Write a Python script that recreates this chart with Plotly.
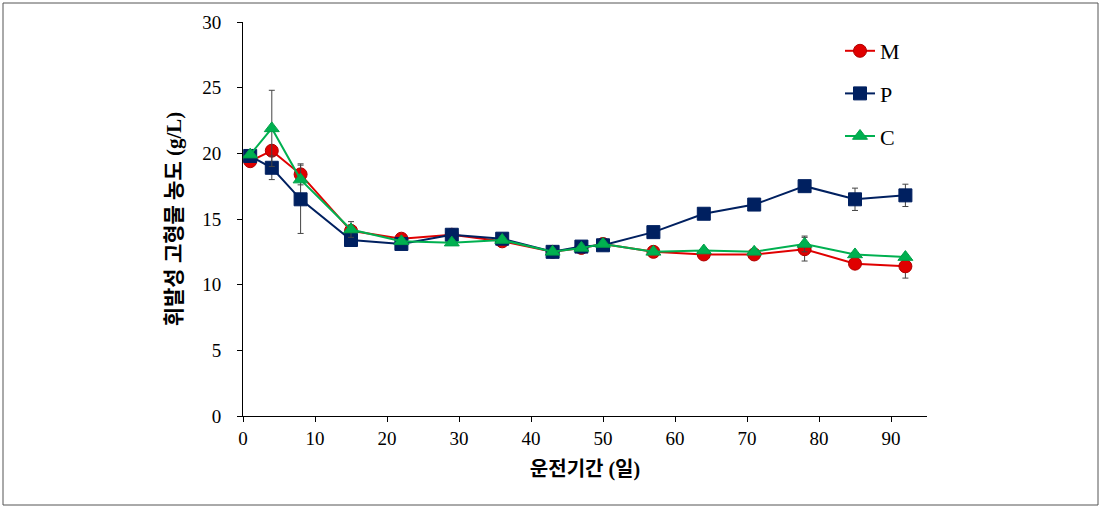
import plotly.graph_objects as go

days = [1, 4, 8, 15, 22, 29, 36, 43, 47, 50, 57, 64, 71, 78, 85, 92]
m_vals = [19.4, 20.2, 18.4, 14.1, 13.5, 13.8, 13.3, 12.5, 12.8, 13.1, 12.5, 12.3, 12.3, 12.7, 11.6, 11.4]
p_vals = [19.8, 18.9, 16.5, 13.4, 13.1, 13.8, 13.5, 12.5, 12.9, 13.0, 14.0, 15.4, 16.1, 17.5, 16.5, 16.8]
c_vals = [19.9, 21.9, 18.0, 14.2, 13.3, 13.2, 13.4, 12.5, 12.8, 13.1, 12.5, 12.6, 12.5, 13.1, 12.3, 12.1]
m_err = [0, 0, 0.8, 0, 0, 0, 0, 0, 0, 0, 0, 0, 0, 0.9, 0, 0.9]
p_err = [0, 0.9, 2.6, 0, 0, 0, 0, 0, 0, 0, 0, 0, 0, 0, 0.85, 0.85]
c_err = [0, 2.9, 0, 0.6, 0, 0, 0, 0, 0, 0, 0, 0, 0, 0.6, 0, 0]
names = ["M", "P", "C"]
x_ticks = [0, 10, 20, 30, 40, 50, 60, 70, 80, 90]
y_ticks = [0, 5, 10, 15, 20, 25, 30]

W, H = 1102, 508
L, R, T, B = 243, 175, 22, 92
PW, PH = W - L - R, H - T - B

serif = "Liberation Serif"
kfont = "Liberation Serif, Noto Sans CJK KR"

fig = go.Figure()
styles = [
    (m_vals, m_err, "#E00000", "#B00000", "circle", 13),
    (p_vals, p_err, "#002060", "#002060", "square", 13),
    (c_vals, c_err, "#00B050", "#00A048", "triangle-up", 13),
]
for name, (vals, err, col, lcol, sym, sz) in zip(names, styles):
    fig.add_trace(go.Scatter(
        x=days, y=vals, name=name, legendgroup=name,
        mode="lines+markers",
        line=dict(color=col, width=2),
        marker=dict(symbol=sym, size=sz, color=col, line=dict(color=lcol, width=1)),
        error_y=dict(type="data", array=err, visible=True, color="#444444", thickness=1, width=3),
    ))

fig.update_layout(
    width=W, height=H,
    margin=dict(l=L, r=R, t=T, b=B, pad=0),
    paper_bgcolor="white", plot_bgcolor="white",
    showlegend=True,
    legend=dict(
        x=(840 - L) / PW, y=(416 - 30) / PH, xanchor="left", yanchor="top",
        font=dict(family=serif, size=22, color="black"),
        bgcolor="rgba(0,0,0,0)", tracegroupgap=11, itemwidth=30,
    ),
    xaxis=dict(
        range=[0, 95], tickvals=x_ticks, ticks="outside", ticklen=5, tickcolor="black",
        showline=True, linecolor="black", linewidth=1, showgrid=False, zeroline=False,
        tickfont=dict(family=serif, size=19, color="black"),
        title=dict(text="<b>운전기간 (일)</b>", font=dict(family=kfont, size=20, color="black"), standoff=14),
    ),
    yaxis=dict(
        range=[0, 30], tickvals=y_ticks, ticks="outside", ticklen=5, tickcolor="black",
        ticklabelstandoff=12,
        showline=True, linecolor="black", linewidth=1, showgrid=False, zeroline=False,
        tickfont=dict(family=serif, size=19, color="black"),
        title=dict(text="<b>휘발성 고형물 농도 (g/L)</b>", font=dict(family=kfont, size=21, color="black"), standoff=14),
    ),
)

def px2paper(px, py):
    return (px - L) / PW, (H - B - py) / PH

x0, y0 = px2paper(3, 505)
x1, y1 = px2paper(1098, 3)
fig.add_shape(type="rect", xref="paper", yref="paper", x0=x0, y0=y0, x1=x1, y1=y1,
              line=dict(color="#555555", width=1), fillcolor="rgba(0,0,0,0)")

fig.write_html("out.html")
